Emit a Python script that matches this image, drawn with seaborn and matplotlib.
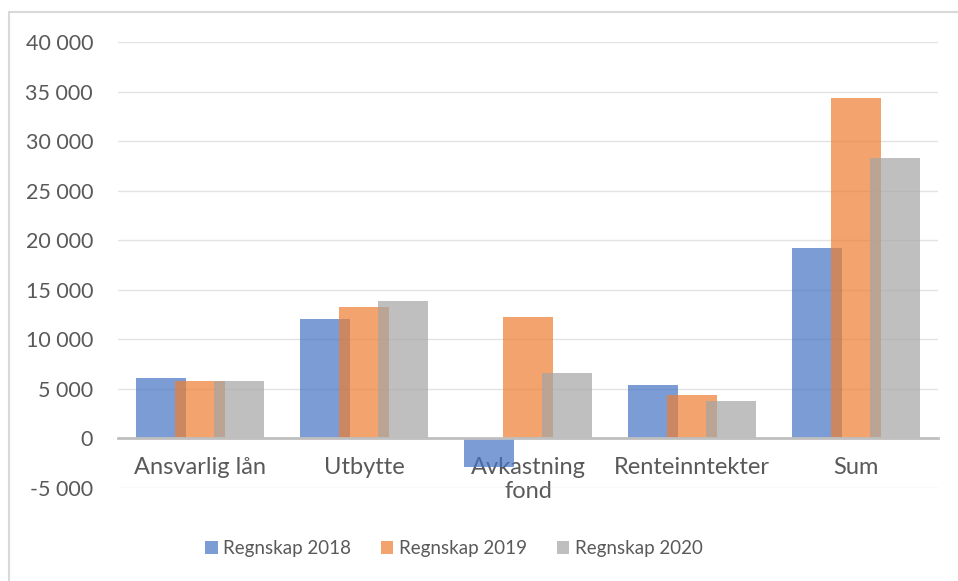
import pandas as pd
import matplotlib
matplotlib.use("Agg")
import matplotlib.pyplot as plt
from matplotlib.lines import Line2D
from matplotlib.patches import Patch
from matplotlib.ticker import FuncFormatter
import seaborn as sns

# Data (NOK 1000)
categories = ["Ansvarlig lån", "Utbytte", "Avkastning\nfond", "Renteinntekter", "Sum"]
series = ["Regnskap 2018", "Regnskap 2019", "Regnskap 2020"]
regnskap_2018 = [6100, 12100, -2900, 5400, 19200]
regnskap_2019 = [5800, 13300, 12300, 4400, 34400]
regnskap_2020 = [5800, 13900, 6600, 3800, 28300]
colors = ["#4472C4", "#ED7D31", "#A5A5A5"]
yticks = list(range(-5000, 40001, 5000))

df = pd.DataFrame({
    "Post": categories * 3,
    "Beløp": regnskap_2018 + regnskap_2019 + regnskap_2020,
    "Serie": [s for s in series for _ in categories],
})

sns.set_style("white")
plt.rcParams["font.family"] = ["Lato", "DejaVu Sans"]
text_color = "#595959"

fig = plt.figure(figsize=(9.58, 5.81), dpi=100)
ax = fig.add_axes([118 / 958, 1 - 488 / 581, (938 - 118) / 958, (488 - 42) / 581])

sns.barplot(data=df, x="Post", y="Beløp", hue="Serie", order=categories,
            hue_order=series, palette=colors, alpha=0.7, saturation=1,
            linewidth=0, legend=False, ax=ax)

# Excel-style overlapping bars
width = 0.305
offsets = [-0.235, 0.0, 0.235]
for k, cont in enumerate(ax.containers):
    for i, bar in enumerate(cont):
        bar.set_x(i + offsets[k] - width / 2)
        bar.set_width(width)

ax.set_xlim(-0.5, 4.5)
ax.set_ylim(-5000, 40000)
ax.set_yticks(yticks)
ax.yaxis.set_major_formatter(FuncFormatter(lambda v, p: f"{int(v):,}".replace(",", " ")))
ax.set_xticks(range(len(categories)))
ax.set_xticklabels(categories, linespacing=1.45)
ax.set_xlabel("")
ax.set_ylabel("")

ax.set_axisbelow(True)
ax.yaxis.grid(True, color="#E3E3E3", linewidth=1)
for side in ["top", "right", "left"]:
    ax.spines[side].set_visible(False)
ax.spines["bottom"].set_position(("data", 0))
ax.spines["bottom"].set_color("#BFBFBF")
ax.spines["bottom"].set_linewidth(2)

ax.tick_params(axis="y", length=0, pad=18, labelsize=15.5, labelcolor=text_color)
ax.tick_params(axis="x", length=0, pad=13, labelsize=17, labelcolor=text_color)

handles = [Patch(facecolor=c, alpha=0.7, edgecolor="none") for c in colors]
fig.legend(handles, series, loc="center", bbox_to_anchor=(0.474, 0.056), ncol=3,
           frameon=False, fontsize=13.5, handlelength=0.65, handleheight=0.65,
           handletextpad=0.3, columnspacing=1.6, labelcolor=text_color)

# light chart-area border (top and left edges visible in the reference)
fig.add_artist(Line2D([9 / 958, 1], [1 - 12 / 581, 1 - 12 / 581], transform=fig.transFigure,
                      color="#D9D9D9", linewidth=1.5))
fig.add_artist(Line2D([9 / 958, 9 / 958], [0, 1 - 12 / 581], transform=fig.transFigure,
                      color="#D9D9D9", linewidth=1.5))

fig.savefig("out.png", dpi=100)
